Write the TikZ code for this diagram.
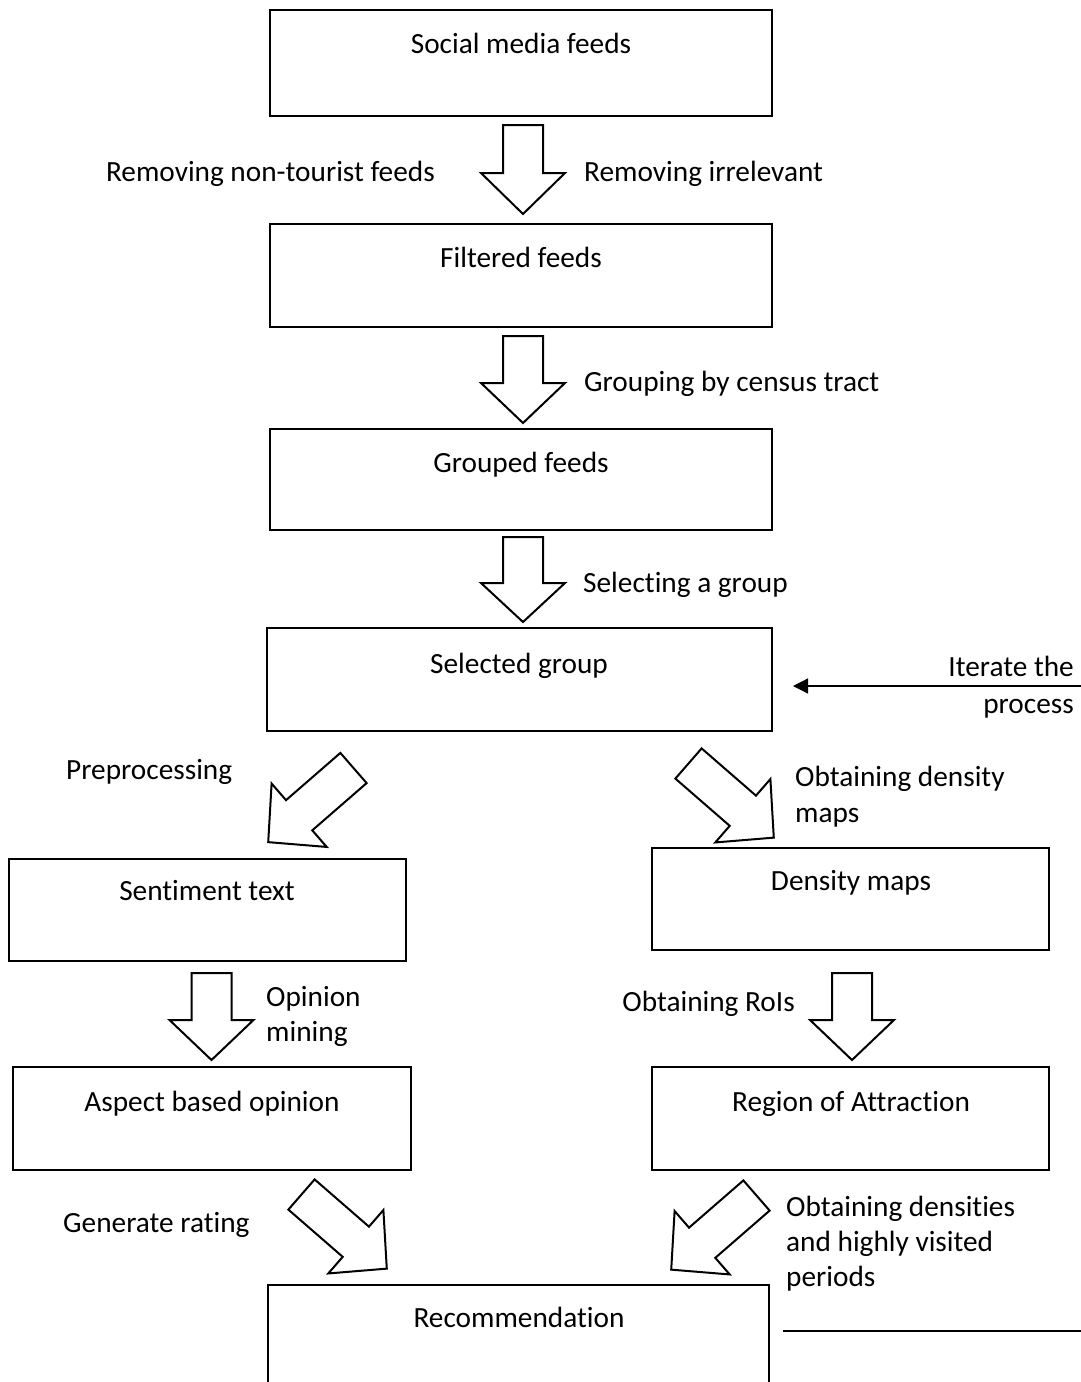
\documentclass[tikz,border=0pt]{standalone}
\usepackage{fontspec}
\setmainfont{Carlito}[Ligatures=NoCommon]
\usetikzlibrary{arrows.meta}
\tikzset{
  box/.style={draw, line width=2.5pt, rectangle, inner sep=0pt},
  lbl/.style={inner sep=0pt, font=\fontsize{29.3}{35}\selectfont},
  barrow/.style={draw, line width=2pt, line join=miter, fill=white},
  thin/.style={line width=1.3pt}
}
\newcommand\blockarrow[5]{%
  \draw[barrow,shift={(#1,#2)},rotate=#3]
    (-20,0) -- (20,0) -- (20,#4) -- (42,#4) -- (0,{#4+#5}) -- (-42,#4) -- (-20,#4) -- cycle;}
\begin{document}
\begin{tikzpicture}[x=1pt,y=-1pt]
\clip (0,0) rectangle (1081,1382);
\useasboundingbox (0,0) rectangle (1081,1382);
% boxes
\node[box, minimum width=502, minimum height=106] (b1) at (521,63) {};
\node[box, minimum width=502, minimum height=103] (b2) at (521,275.5) {};
\node[box, minimum width=502, minimum height=101] (b3) at (521,479.5) {};
\node[box, minimum width=505, minimum height=103] (b4) at (519.5,679.5) {};
\node[box, minimum width=397, minimum height=102] (b5) at (207.5,910) {};
\node[box, minimum width=397, minimum height=102] (b6) at (850.5,899) {};
\node[box, minimum width=398, minimum height=103] (b7) at (212,1118.5) {};
\node[box, minimum width=397, minimum height=103] (b8) at (850.5,1118.5) {};
\node[box, minimum width=501, minimum height=120] (b9) at (518.5,1345) {};
% box texts
\node[lbl, anchor=base] (t1) at (521,53) {Social media feeds};
\node[lbl, anchor=base] (t2) at (521,267) {Filtered feeds};
\node[lbl, anchor=base] (t3) at (521,472) {Grouped feeds};
\node[lbl, anchor=base] (t4) at (519,673) {Selected group};
\node[lbl, anchor=base] (t5) at (207,900) {Sentiment text};
\node[lbl, anchor=base] (t6) at (851,890) {Density maps};
\node[lbl, anchor=base] (t7) at (212,1111) {Aspect based opinion};
\node[lbl, anchor=base] (t8) at (851,1111) {Region of Attraction};
\node[lbl, anchor=base] (t9) at (519,1327) {Recommendation};
% block arrows
\blockarrow{523}{125}{0}{48}{41}
\blockarrow{523}{336}{0}{47}{40}
\blockarrow{523}{537}{0}{46}{39}
\blockarrow{211.5}{973}{0}{47}{40}
\blockarrow{852}{973}{0}{47}{40}
\blockarrow{353.5}{768}{-49}{72}{41}
\blockarrow{688.5}{763.5}{49}{72}{41}
\blockarrow{301.5}{1194.5}{49}{72}{41}
\blockarrow{756.5}{1195.5}{-49}{72}{41}
% arrow labels
\node[lbl, anchor=base east] (l1) at (435,181) {Removing non-tourist feeds};
\node[lbl, anchor=base west] (l2) at (584,181) {Removing irrelevant};
\node[lbl, anchor=base west] (l3) at (584,391) {Grouping by census tract};
\node[lbl, anchor=base west] (l4) at (583,592) {Selecting a group};
\node[lbl, anchor=base west] (l5) at (66,779) {Preprocessing};
\node[lbl, anchor=base west] (l6a) at (795,786) {Obtaining density};
\node[lbl, anchor=base west] (l6b) at (795,822) {maps};
\node[lbl, anchor=base west] (l7a) at (266,1006) {Opinion};
\node[lbl, anchor=base west] (l7b) at (266,1041) {mining};
\node[lbl, anchor=base east] (l8) at (795,1011) {Obtaining RoIs};
\node[lbl, anchor=base west] (l9) at (63,1232) {Generate rating};
\node[lbl, anchor=base west] (l10a) at (786,1216) {Obtaining densities};
\node[lbl, anchor=base west] (l10b) at (786,1251) {and highly visited};
\node[lbl, anchor=base west] (l10c) at (786,1286) {periods};
\node[lbl, anchor=base east] (it1) at (1074,676) {Iterate the};
\node[lbl, anchor=base east] (it2) at (1074,713) {process};
% iterate arrow
\coordinate (itS) at (1081,686);
\coordinate (itE) at (793,686);
\draw[thin, -{Triangle[length=15pt,width=15pt]}] (itS) -- (itE);
% bottom line
\coordinate (bl1) at (783,1331);
\coordinate (bl2) at (1081,1331);
\draw[thin] (bl1) -- (bl2);
\end{tikzpicture}
\end{document}
